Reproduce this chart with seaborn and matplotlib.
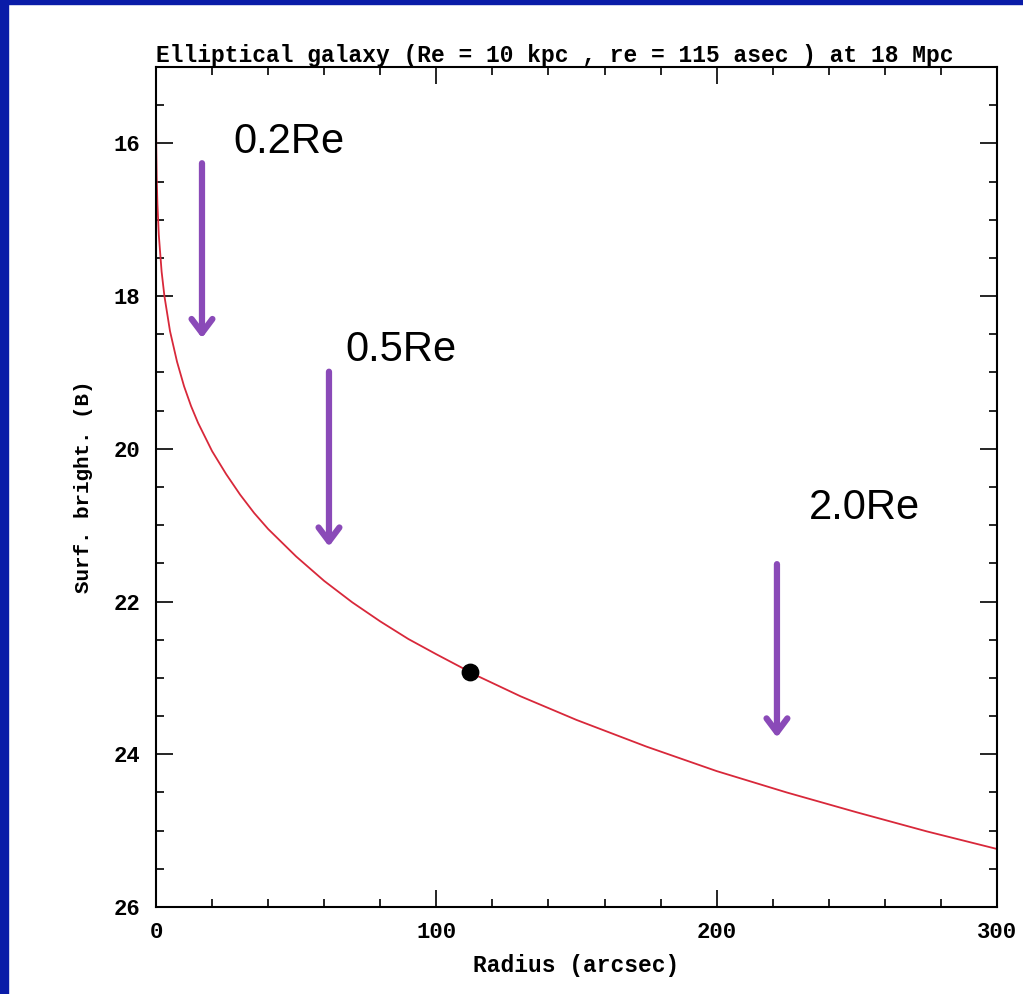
import matplotlib
matplotlib.use("Agg")
import matplotlib.pyplot as plt
from matplotlib.patches import Rectangle
from matplotlib.ticker import MultipleLocator
import seaborn as sns

# ── data ─────────────────────────────────────────────────────────────────────
radius = [0, 0.001, 0.01, 0.05, 0.1, 0.25, 0.5, 1, 2, 3, 5, 7.5, 10, 12.5, 15,
          20, 25, 30, 35, 40, 50, 60, 70, 80, 90, 100, 115, 130, 150, 175,
          200, 225, 250, 275, 300]
surf_bright = [14.65, 15.10, 15.46, 15.86, 16.08, 16.45, 16.79, 17.20, 17.68,
               18.00, 18.46, 18.86, 19.18, 19.44, 19.66, 20.03, 20.33, 20.60,
               20.84, 21.05, 21.41, 21.73, 22.01, 22.26, 22.49, 22.69, 22.98,
               23.24, 23.55, 23.90, 24.22, 24.50, 24.76, 25.01, 25.24]
re_point_x = [112]
re_point_y = [22.92]

marker_labels = ["0.2Re", "0.5Re", "2.0Re"]

TITLE = "Elliptical galaxy (Re = 10 kpc , re = 115 asec ) at 18 Mpc"
XLABEL = "Radius (arcsec)"
YLABEL = "Surf. bright. (B)"

PURPLE = "#8a4ab8"
RED = "#d8283a"
BLUE = "#0a1ca8"

sns.set_style("ticks")
plt.rcParams["font.family"] = ["Liberation Mono", "DejaVu Sans Mono"]
plt.rcParams["font.weight"] = "bold"
plt.rcParams["text.color"] = "black"
plt.rcParams["axes.labelcolor"] = "black"

fig = plt.figure(figsize=(10.23, 9.94), dpi=100)
fig.patch.set_facecolor("white")
ax = fig.add_axes([0.1525, 0.0875, 0.8221, 0.8451])

sns.lineplot(x=radius, y=surf_bright, ax=ax, color=RED, linewidth=1.3,
             sort=False, estimator=None)
sns.scatterplot(x=re_point_x, y=re_point_y, ax=ax, color="black", s=140,
                edgecolor="black", linewidth=1, zorder=5)

ax.set_xlim(0, 300)
ax.set_ylim(26, 15)
ax.xaxis.set_major_locator(MultipleLocator(100))
ax.xaxis.set_minor_locator(MultipleLocator(20))
ax.yaxis.set_major_locator(MultipleLocator(2))
ax.yaxis.set_minor_locator(MultipleLocator(0.5))
ax.tick_params(which="both", direction="in", top=True, right=True,
               colors="black", width=1.2)
ax.tick_params(which="major", length=12, pad=11, labelsize=16)
ax.tick_params(which="minor", length=6)
for s in ax.spines.values():
    s.set_linewidth(1.5)
    s.set_color("black")

ax.set_title(TITLE, loc="left", fontsize=16.5, fontweight="bold", pad=2,
             color="black")
ax.set_xlabel(XLABEL, fontsize=16.5, fontweight="bold", labelpad=8,
              color="black")
ax.set_ylabel(YLABEL, fontsize=15, fontweight="bold", labelpad=15,
              color="black")

# ── arrows and labels ────────────────────────────────────────────────────────
arrows = [(16.4, 16.26, 18.55), (61.7, 18.99, 21.28), (221.5, 21.51, 23.78)]
text_pos = [(27.5, 15.98), (67.4, 18.70), (233, 20.78)]
for (x, y0, y1), (tx, ty), lab in zip(arrows, text_pos, marker_labels):
    ax.annotate("", xy=(x, y1), xytext=(x, y0),
                arrowprops=dict(arrowstyle="->,head_length=1.0,head_width=0.75",
                                color=PURPLE, lw=4.5, shrinkA=0, shrinkB=0))
    ax.text(tx, ty, lab, fontsize=30, fontweight="normal",
            family=["Liberation Sans", "DejaVu Sans"],
            va="center", ha="left", color="black")

# blue slide border (top and left)
fig.patches.append(Rectangle((0, 0), 8 / 1023, 1, transform=fig.transFigure,
                             color=BLUE, zorder=10))
fig.patches.append(Rectangle((0, 1 - 4 / 994), 1, 4 / 994,
                             transform=fig.transFigure, color=BLUE, zorder=10))

fig.savefig("out.png", dpi=100, facecolor="white")
